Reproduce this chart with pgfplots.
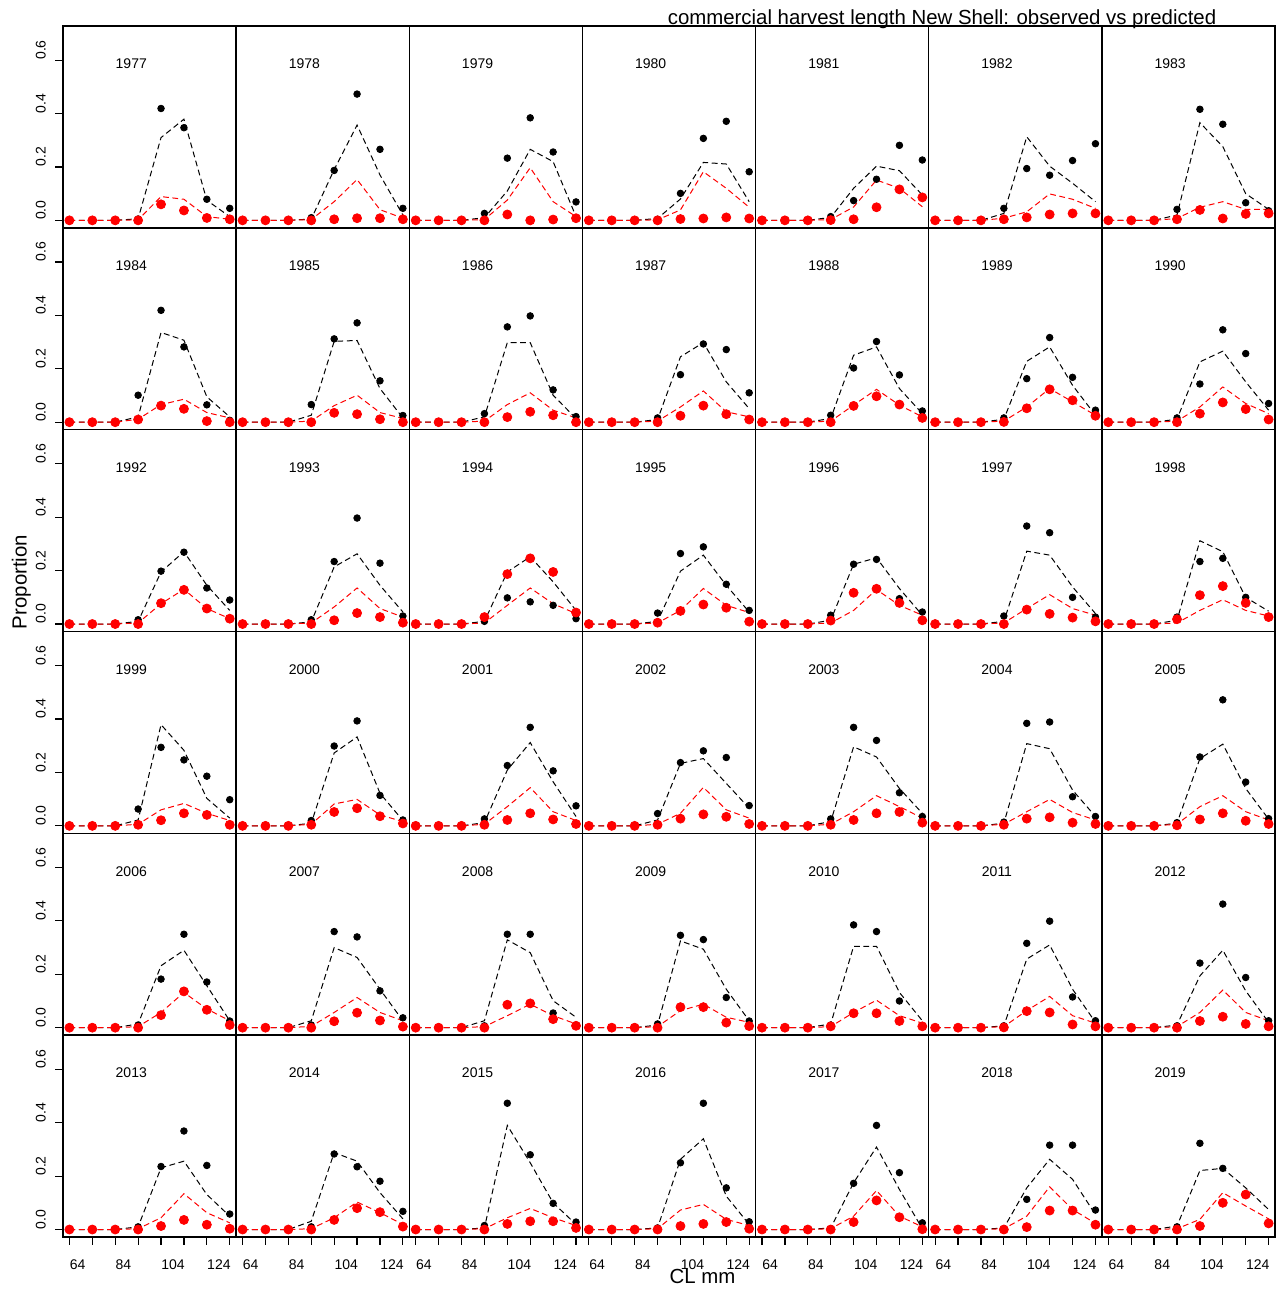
\documentclass[border=0pt]{standalone}
\usepackage{fontspec}
\setmainfont{Liberation Sans}
\usepackage{pgfplots}
\usepackage{pgfplotstable}
\pgfplotsset{compat=1.18}

\newcommand\labfont{\fontsize{10.2}{12}\selectfont}
\newcommand\smfont{\fontsize{7}{8.4}\selectfont}

\newcommand\readyearB[2]{\pgfplotstableread[row sep=\\]{#2}#1}
\newcommand\readyear[2]{\expandafter\readyearB\csname tab#1\endcsname{#2}}

% columns: x = CL bin, ob = observed (black), pb = predicted (black),
%          ro = observed (red), rp = predicted (red)
\readyear{1977}{x ob pb ro rp\\64 0 0 0 0\\74 0 0 0 0\\84 0 0 0 0\\94 .005 .006 0 .002\\104 .419 .31 .06 .089\\114 .347 .379 .037 .079\\124 .079 .075 .009 .014\\134 .045 .014 .004 .004\\}
\readyear{1978}{x ob pb ro rp\\64 0 0 0 0\\74 0 0 0 0\\84 0 0 0 0\\94 .01 .005 0 .003\\104 .187 .19 .004 .07\\114 .473 .357 .008 .153\\124 .266 .17 .008 .04\\134 .045 .02 .004 .008\\}
\readyear{1979}{x ob pb ro rp\\64 0 0 0 0\\74 0 0 0 0\\84 0 0 0 0\\94 .026 .01 0 .003\\104 .233 .11 .022 .076\\114 .384 .266 0 .197\\124 .256 .22 .003 .07\\134 .069 .014 .008 .014\\}
\readyear{1980}{x ob pb ro rp\\64 0 0 0 0\\74 0 0 0 0\\84 0 0 0 0\\94 .004 .007 0 .002\\104 .101 .08 .005 .039\\114 .307 .217 .007 .182\\124 .371 .211 .011 .12\\134 .182 .07 .007 .049\\}
\readyear{1981}{x ob pb ro rp\\64 0 0 0 0\\74 0 0 0 0\\84 0 0 0 0\\94 .014 .011 .001 .003\\104 .074 .12 .004 .05\\114 .154 .203 .049 .151\\124 .281 .186 .116 .12\\134 .226 .095 .086 .051\\}
\readyear{1982}{x ob pb ro rp\\64 0 0 0 0\\74 0 0 0 0\\84 0 0 0 0\\94 .045 .026 .004 .008\\104 .194 .313 .011 .032\\114 .169 .203 .022 .099\\124 .224 .139 .026 .079\\134 .287 .07 .026 .045\\}
\readyear{1983}{x ob pb ro rp\\64 0 0 0 0\\74 0 0 0 0\\84 0 0 0 0\\94 .041 .02 .004 .007\\104 .416 .366 .039 .049\\114 .36 .276 .007 .07\\124 .066 .1 .024 .041\\134 .036 .041 .026 .041\\}
\readyear{1984}{x ob pb ro rp\\64 0 0 0 0\\74 0 0 0 0\\84 0 0 0 0\\94 .101 .02 .01 .011\\104 .419 .336 .062 .066\\114 .282 .307 .05 .086\\124 .065 .095 .004 .036\\134 .007 .02 0 .016\\}
\readyear{1985}{x ob pb ro rp\\64 0 0 0 0\\74 0 0 0 0\\84 0 0 0 0\\94 .066 .026 0 .004\\104 .312 .303 .035 .062\\114 .372 .306 .03 .101\\124 .155 .126 .011 .036\\134 .025 .016 0 .014\\}
\readyear{1986}{x ob pb ro rp\\64 0 0 0 0\\74 0 0 0 0\\84 0 0 0 0\\94 .032 .02 0 .004\\104 .357 .298 .019 .066\\114 .398 .298 .039 .11\\124 .121 .101 .026 .045\\134 .021 .014 0 .016\\}
\readyear{1987}{x ob pb ro rp\\64 0 0 0 0\\74 0 0 0 0\\84 0 0 0 0\\94 .016 .01 0 .004\\104 .178 .245 .024 .057\\114 .293 .298 .062 .117\\124 .272 .151 .03 .039\\134 .11 .051 .01 .02\\}
\readyear{1988}{x ob pb ro rp\\64 0 0 0 0\\74 0 0 0 0\\84 0 0 0 0\\94 .026 .014 0 .004\\104 .203 .251 .061 .064\\114 .302 .282 .097 .123\\124 .177 .126 .066 .064\\134 .042 .032 .016 .02\\}
\readyear{1989}{x ob pb ro rp\\64 0 0 0 0\\74 0 0 0 0\\84 0 0 0 0\\94 .016 .011 .001 .004\\104 .163 .228 .052 .057\\114 .317 .282 .123 .126\\124 .168 .138 .082 .076\\134 .045 .026 .024 .026\\}
\readyear{1990}{x ob pb ro rp\\64 0 0 0 0\\74 0 0 0 0\\84 0 0 0 0\\94 .016 .011 0 .004\\104 .143 .226 .032 .057\\114 .346 .266 .074 .132\\124 .257 .151 .049 .07\\134 .07 .045 .01 .032\\}
\readyear{1992}{x ob pb ro rp\\64 0 0 0 0\\74 0 0 0 0\\84 0 0 0 0\\94 .016 .01 0 .004\\104 .198 .195 .078 .076\\114 .269 .271 .128 .13\\124 .135 .145 .058 .058\\134 .09 .051 .02 .02\\}
\readyear{1993}{x ob pb ro rp\\64 0 0 0 0\\74 0 0 0 0\\84 0 0 0 0\\94 .016 .008 0 .004\\104 .234 .214 .014 .064\\114 .397 .263 .041 .135\\124 .228 .145 .026 .058\\134 .03 .045 .005 .026\\}
\readyear{1994}{x ob pb ro rp\\64 0 0 0 0\\74 0 0 0 0\\84 0 0 0 0\\94 .01 .01 .026 .004\\104 .098 .195 .187 .07\\114 .083 .252 .246 .135\\124 .07 .158 .195 .076\\134 .02 .051 .043 .039\\}
\readyear{1995}{x ob pb ro rp\\64 0 0 0 0\\74 0 0 0 0\\84 0 0 0 0\\94 .041 .01 .005 .004\\104 .264 .198 .049 .051\\114 .289 .258 .073 .133\\124 .149 .145 .061 .07\\134 .051 .045 .009 .043\\}
\readyear{1996}{x ob pb ro rp\\64 0 0 0 0\\74 0 0 0 0\\84 0 0 0 0\\94 .033 .014 .013 .004\\104 .224 .224 .117 .051\\114 .242 .248 .132 .129\\124 .095 .133 .079 .07\\134 .045 .033 .014 .033\\}
\readyear{1997}{x ob pb ro rp\\64 0 0 0 0\\74 0 0 0 0\\84 0 0 0 0\\94 .03 .01 0 .004\\104 .367 .273 .054 .058\\114 .342 .258 .038 .11\\124 .1 .139 .024 .058\\134 .026 .039 .01 .033\\}
\readyear{1998}{x ob pb ro rp\\64 0 0 0 0\\74 0 0 0 0\\84 0 0 0 0\\94 .026 .014 .018 .004\\104 .234 .312 .108 .051\\114 .246 .271 .142 .091\\124 .1 .1 .079 .051\\134 .025 .048 .026 .03\\}
\readyear{1999}{x ob pb ro rp\\64 0 0 0 0\\74 0 0 0 0\\84 0 0 0 0\\94 .063 .022 .004 .006\\104 .294 .379 .021 .06\\114 .247 .283 .047 .084\\124 .186 .103 .041 .047\\134 .098 .029 .004 .02\\}
\readyear{2000}{x ob pb ro rp\\64 0 0 0 0\\74 0 0 0 0\\84 0 0 0 0\\94 .02 .01 .004 .006\\104 .299 .273 .052 .082\\114 .393 .333 .066 .099\\124 .114 .122 .036 .041\\134 .022 .02 .009 .016\\}
\readyear{2001}{x ob pb ro rp\\64 0 0 0 0\\74 0 0 0 0\\84 0 0 0 0\\94 .026 .012 .004 .006\\104 .226 .209 .022 .072\\114 .369 .312 .047 .143\\124 .206 .165 .024 .053\\134 .075 .035 .007 .02\\}
\readyear{2002}{x ob pb ro rp\\64 0 0 0 0\\74 0 0 0 0\\84 0 0 0 0\\94 .046 .022 .004 .006\\104 .237 .234 .027 .047\\114 .281 .252 .043 .144\\124 .256 .159 .034 .06\\134 .076 .066 .007 .029\\}
\readyear{2003}{x ob pb ro rp\\64 0 0 0 0\\74 0 0 0 0\\84 0 0 0 0\\94 .026 .016 .004 .006\\104 .369 .296 .022 .053\\114 .32 .258 .047 .113\\124 .124 .14 .052 .072\\134 .035 .047 .012 .029\\}
\readyear{2004}{x ob pb ro rp\\64 0 0 0 0\\74 0 0 0 0\\84 0 0 0 0\\94 .014 .01 .004 .006\\104 .384 .308 .027 .053\\114 .389 .289 .032 .099\\124 .109 .134 .012 .05\\134 .035 .035 .007 .022\\}
\readyear{2005}{x ob pb ro rp\\64 0 0 0 0\\74 0 0 0 0\\84 0 0 0 0\\94 .012 .01 .002 .006\\104 .258 .252 .024 .072\\114 .472 .306 .047 .113\\124 .164 .14 .019 .053\\134 .027 .025 .007 .022\\}
\readyear{2006}{x ob pb ro rp\\64 0 0 0 0\\74 0 0 0 0\\84 0 0 0 0\\94 .01 .014 0 .004\\104 .182 .232 .047 .057\\114 .35 .29 .136 .132\\124 .171 .157 .067 .07\\134 .025 .026 .01 .026\\}
\readyear{2007}{x ob pb ro rp\\64 0 0 0 0\\74 0 0 0 0\\84 0 0 0 0\\94 .01 .026 0 .005\\104 .36 .3 .024 .057\\114 .34 .263 .056 .113\\124 .138 .144 .027 .057\\134 .037 .026 .004 .026\\}
\readyear{2008}{x ob pb ro rp\\64 0 0 0 0\\74 0 0 0 0\\84 0 0 0 0\\94 .007 .026 0 .004\\104 .35 .329 .086 .045\\114 .35 .281 .091 .088\\124 .055 .101 .032 .045\\134 .01 .039 .007 .014\\}
\readyear{2009}{x ob pb ro rp\\64 0 0 0 0\\74 0 0 0 0\\84 0 0 0 0\\94 .014 .01 0 .004\\104 .346 .325 .077 .064\\114 .33 .294 .077 .088\\124 .113 .144 .019 .039\\134 .025 .026 .006 .02\\}
\readyear{2010}{x ob pb ro rp\\64 0 0 0 0\\74 0 0 0 0\\84 0 0 0 0\\94 .01 .014 .005 .004\\104 .385 .305 .054 .057\\114 .36 .305 .054 .103\\124 .1 .132 .025 .045\\134 .007 .026 .005 .017\\}
\readyear{2011}{x ob pb ro rp\\64 0 0 0 0\\74 0 0 0 0\\84 0 0 0 0\\94 .007 .007 .001 .004\\104 .316 .257 .062 .064\\114 .399 .31 .057 .117\\124 .115 .144 .012 .045\\134 .026 .02 .005 .017\\}
\readyear{2012}{x ob pb ro rp\\64 0 0 0 0\\74 0 0 0 0\\84 0 0 0 0\\94 .007 .01 0 .004\\104 .242 .194 .025 .057\\114 .463 .29 .041 .141\\124 .188 .138 .014 .057\\134 .026 .02 .005 .026\\}
\readyear{2013}{x ob pb ro rp\\64 0 0 0 0\\74 0 0 0 0\\84 0 0 0 0\\94 .01 .01 0 .003\\104 .236 .231 .013 .044\\114 .369 .256 .036 .134\\124 .24 .131 .018 .063\\134 .058 .05 .003 .025\\}
\readyear{2014}{x ob pb ro rp\\64 0 0 0 0\\74 0 0 0 0\\84 0 0 0 0\\94 .01 .031 0 .003\\104 .283 .288 .036 .044\\114 .235 .256 .08 .103\\124 .181 .138 .065 .063\\134 .068 .04 .011 .019\\}
\readyear{2015}{x ob pb ro rp\\64 0 0 0 0\\74 0 0 0 0\\84 0 0 0 0\\94 .015 .006 0 .003\\104 .473 .39 .021 .044\\114 .28 .25 .031 .079\\124 .098 .1 .031 .044\\134 .028 .019 .006 .015\\}
\readyear{2016}{x ob pb ro rp\\64 0 0 0 0\\74 0 0 0 0\\84 0 0 0 0\\94 .006 .006 0 .003\\104 .25 .263 .013 .073\\114 .473 .34 .021 .094\\124 .156 .125 .028 .038\\134 .029 .019 .003 .015\\}
\readyear{2017}{x ob pb ro rp\\64 0 0 0 0\\74 0 0 0 0\\84 0 0 0 0\\94 .003 .006 0 .003\\104 .173 .175 .028 .05\\114 .39 .309 .109 .146\\124 .213 .15 .046 .05\\134 .025 .003 .001 .01\\}
\readyear{2018}{x ob pb ro rp\\64 0 0 0 0\\74 0 0 0 0\\84 0 0 0 0\\94 .003 .006 0 .003\\104 .113 .156 .009 .05\\114 .316 .263 .071 .16\\124 .316 .188 .071 .075\\134 .073 .056 .018 .023\\}
\readyear{2019}{x ob pb ro rp\\64 0 0 0 0\\74 0 0 0 0\\84 0 0 0 0\\94 .01 .013 0 .003\\104 .323 .221 .013 .038\\114 .229 .229 .1 .138\\124 .13 .156 .131 .088\\134 .025 .075 .023 .04\\}

\pgfplotsset{
  panel/.style={
    scale only axis, width=86.571pt, height=100.915pt,
    anchor=north west,
    xmin=61.2, xmax=136.8, ymin=-0.028, ymax=0.728,
    xtick=\empty, ytick=\empty,
    axis line style={line width=0.7pt},
    tick style={black, line width=0.6pt},
    major tick length=4pt, tick align=outside,
    tick label style={font=\smfont},
  },
  leftcol/.style={
    ytick={0,0.2,0.4,0.6}, yticklabels={0.0,0.2,0.4,0.6}, ytick pos=left,
    yticklabel style={rotate=90, anchor=base west, inner sep=0pt},
    yticklabel shift=4.7pt,
  },
  bottomrow/.style={
    xtick={64,74,...,134}, xticklabels={64,,84,,104,,124,}, xtick pos=left,
    xticklabel style={anchor=north west, inner sep=0pt},
    xticklabel shift=7pt,
  },
  dsh/.style={dash pattern=on 2.9pt off 1.8pt, line width=0.5pt, no markers},
}

\newcommand\panelB[4]{%
  \pgfmathsetmacro\px{(63+#2*173.143)*0.5}%
  \pgfmathsetmacro\py{-(26+#3*201.83)*0.5}%
  \ifnum#2=0 \pgfplotsset{cy/.style={leftcol}}\else\pgfplotsset{cy/.style={}}\fi
  \ifnum#3=5 \pgfplotsset{cx/.style={bottomrow}}\else\pgfplotsset{cx/.style={}}\fi
  \begin{axis}[panel, cy, cx, at={(\px pt,\py pt)}]
    \addplot[black, dsh] table[x=x, y=pb]{#1};
    \addplot[only marks, mark=*, mark size=1.65pt, black] table[x=x, y=ob]{#1};
    \addplot[red, dsh] table[x=x, y=rp]{#1};
    \addplot[only marks, mark=*, mark size=2.25pt, red] table[x=x, y=ro]{#1};
    \node[font=\smfont] at (axis cs:91,0.586) {#4};
  \end{axis}%
}
\newcommand\panel[3]{\expandafter\panelB\csname tab#3\endcsname{#1}{#2}{#3}}

\begin{document}
\begin{tikzpicture}
\path[use as bounding box] (0,0) rectangle (641.5pt,-649.5pt);
\panel{0}{0}{1977}\panel{1}{0}{1978}\panel{2}{0}{1979}\panel{3}{0}{1980}\panel{4}{0}{1981}\panel{5}{0}{1982}\panel{6}{0}{1983}
\panel{0}{1}{1984}\panel{1}{1}{1985}\panel{2}{1}{1986}\panel{3}{1}{1987}\panel{4}{1}{1988}\panel{5}{1}{1989}\panel{6}{1}{1990}
\panel{0}{2}{1992}\panel{1}{2}{1993}\panel{2}{2}{1994}\panel{3}{2}{1995}\panel{4}{2}{1996}\panel{5}{2}{1997}\panel{6}{2}{1998}
\panel{0}{3}{1999}\panel{1}{3}{2000}\panel{2}{3}{2001}\panel{3}{3}{2002}\panel{4}{3}{2003}\panel{5}{3}{2004}\panel{6}{3}{2005}
\panel{0}{4}{2006}\panel{1}{4}{2007}\panel{2}{4}{2008}\panel{3}{4}{2009}\panel{4}{4}{2010}\panel{5}{4}{2011}\panel{6}{4}{2012}
\panel{0}{5}{2013}\panel{1}{5}{2014}\panel{2}{5}{2015}\panel{3}{5}{2016}\panel{4}{5}{2017}\panel{5}{5}{2018}\panel{6}{5}{2019}
\node[anchor=base, font=\labfont] at (471pt,-12.5pt) {commercial harvest length New Shell: observed vs predicted};
\node[anchor=base, font=\labfont] at (351.25pt,-641.5pt) {CL mm};
\node[anchor=base, rotate=90, font=\labfont] at (13.35pt,-291pt) {Proportion};
\end{tikzpicture}
\end{document}
